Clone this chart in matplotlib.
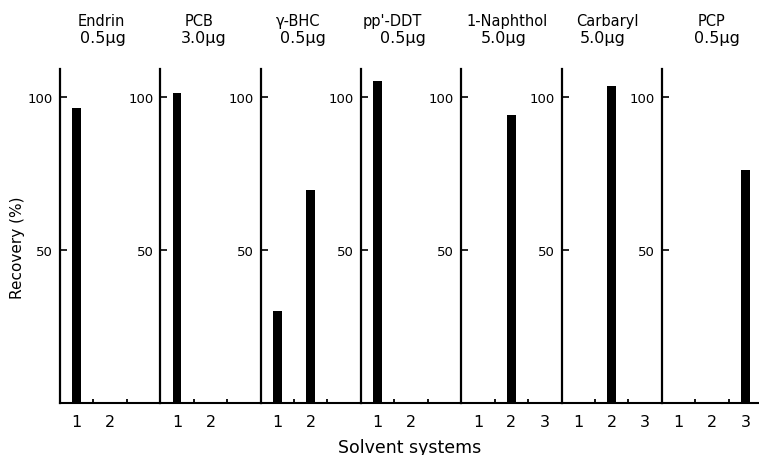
import matplotlib
matplotlib.use("Agg")
import matplotlib.pyplot as plt
from matplotlib.transforms import blended_transform_factory

# compounds tested, amount spiked, recovery per solvent system
compostos = ["Endrin", "PCB", "γ-BHC", "pp'-DDT", "1-Naphthol", "Carbaryl", "PCP"]
quantidades = ["0.5µg", "3.0µg", "0.5µg", "0.5µg", "5.0µg", "5.0µg", "0.5µg"]
sistemas = [
    ["1", "2"],
    ["1", "2"],
    ["1", "2"],
    ["1", "2"],
    ["1", "2", "3"],
    ["1", "2", "3"],
    ["1", "2", "3"],
]
recuperacao = [
    [96.7, 0],
    [101.4, 0],
    [30.1, 69.7],
    [105.4, 0],
    [0, 94.2, 0],
    [0, 103.7, 0],
    [0, 0, 76.3],
]

# label placement inside each panel (axes fraction), as typeset in the original
nome_x = [0.41, 0.39, 0.37, 0.31, 0.46, 0.46, 0.50]
qtd_x = [0.43, 0.43, 0.42, 0.42, 0.42, 0.41, 0.55]

W, H = 759, 456
fig = plt.figure(figsize=(W / 100, H / 100), dpi=100)
fig.patch.set_facecolor("white")

x0, passo = 60, 100.3
base, topo = 404, 70

for i, comp in enumerate(compostos):
    ax = fig.add_axes([(x0 + i * passo) / W, (H - base) / H, passo / W, (base - topo) / H])
    pos = list(range(1, len(sistemas[i]) + 1))
    ax.bar(pos, recuperacao[i], width=0.26, color="black", linewidth=0)
    ax.set_xlim(0.5, 3.5)
    ax.set_ylim(0, 109.3)
    ax.patch.set_alpha(0)

    for s in ["top", "right"]:
        ax.spines[s].set_visible(False)
    ax.spines["left"].set_linewidth(1.6)
    ax.spines["bottom"].set_linewidth(1.5)

    ax.set_yticks([50, 100])
    ax.tick_params(axis="y", direction="in", length=5, width=1.2, pad=5, labelsize=9.5)
    ax.set_xticks(pos)
    ax.set_xticklabels(sistemas[i])
    ax.set_xticks([1.5, 2.5], minor=True)
    ax.tick_params(axis="x", which="major", length=0, pad=8, labelsize=11.5)
    ax.tick_params(axis="x", which="minor", direction="in", length=3, width=1.3)

    trans = blended_transform_factory(ax.transAxes, fig.transFigure)
    ax.text(nome_x[i], (H - 26) / H, comp, transform=trans,
            ha="center", va="baseline", fontsize=10.5)
    ax.text(qtd_x[i], (H - 43) / H, quantidades[i], transform=trans,
            ha="center", va="baseline", fontsize=11.5)

fig.text(18 / W, 1 - 248 / H, "Recovery (%)", rotation=90, ha="center", va="center", fontsize=11)
fig.text(410 / W, 3 / H, "Solvent systems", ha="center", va="baseline", fontsize=12.5)

fig.savefig("out.png", dpi=100)
